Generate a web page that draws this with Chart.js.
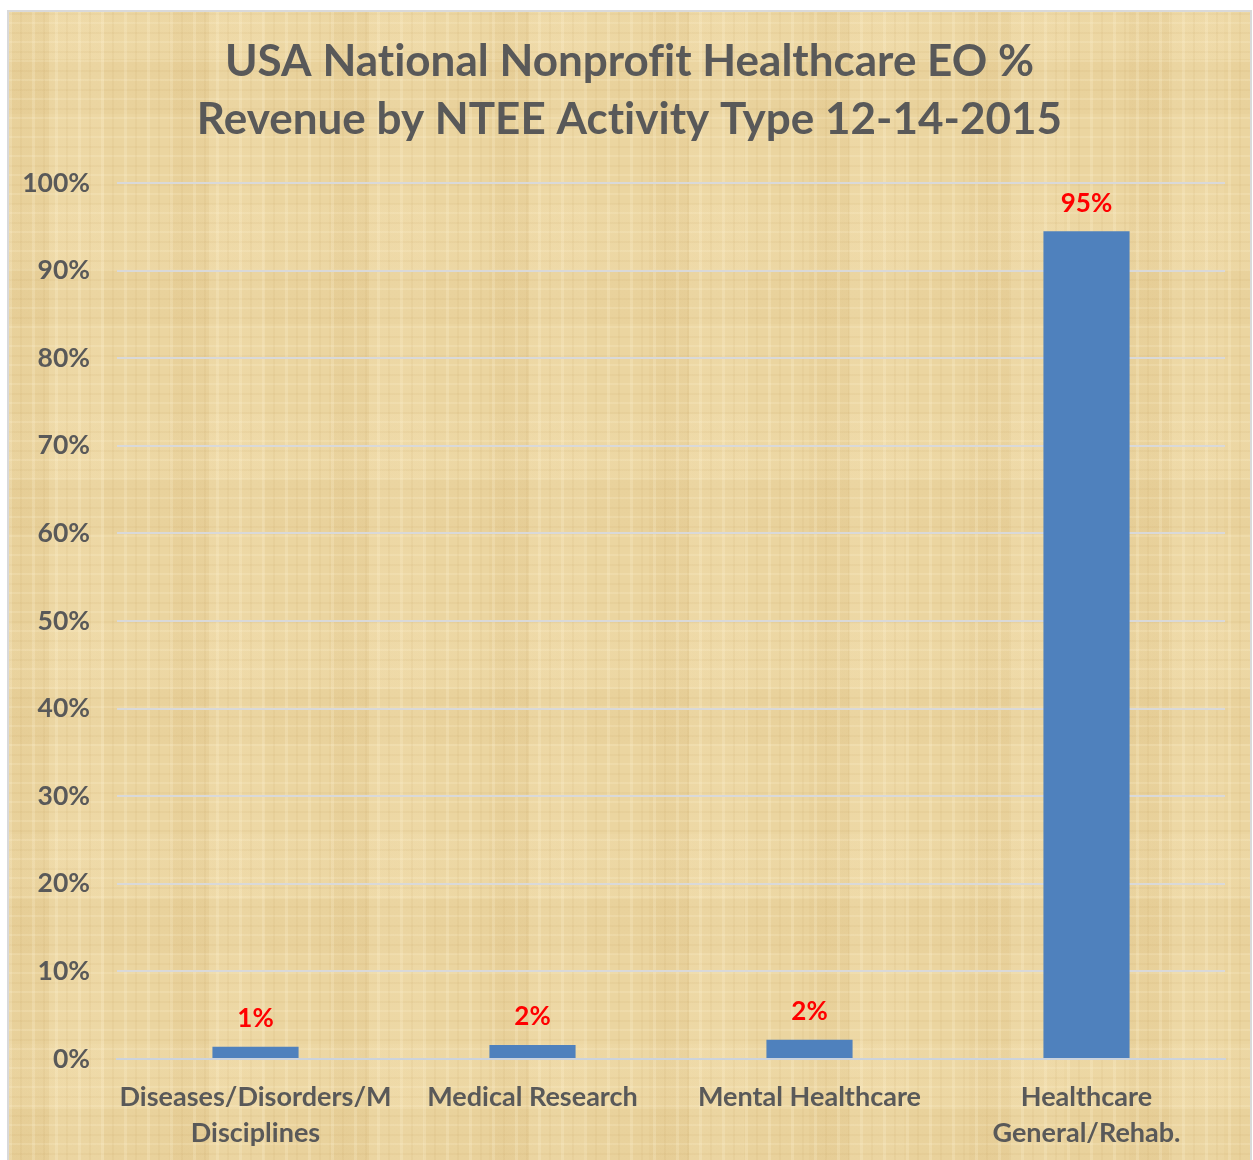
<!DOCTYPE html>
<html>
<head>
<meta charset="utf-8">
<script src="https://cdn.jsdelivr.net/npm/chart.js@4"></script>
<style>
  body { margin: 0; background: #fff; }
  #frame {
    position: absolute; left: 7px; top: 10px; width: 1241px; height: 1152px;
    border: 2px solid #d9d9d9;
    background-color: #ebd5a0;
    background-image:
      repeating-linear-gradient(90deg, rgba(255,245,215,0.22) 0 3px, rgba(0,0,0,0) 3px 11px, rgba(180,140,70,0.07) 11px 13px, rgba(0,0,0,0) 13px 23px),
      repeating-linear-gradient(0deg, rgba(255,245,215,0.18) 0 2px, rgba(0,0,0,0) 2px 9px, rgba(180,140,70,0.07) 9px 11px, rgba(0,0,0,0) 11px 19px),
      repeating-linear-gradient(90deg, rgba(200,160,90,0.08) 0 40px, rgba(255,240,205,0.10) 40px 95px, rgba(0,0,0,0) 95px 160px),
      repeating-linear-gradient(0deg, rgba(200,160,90,0.06) 0 55px, rgba(255,240,205,0.08) 55px 120px, rgba(0,0,0,0) 120px 210px);
  }
  #wrap { position: absolute; left: 0; top: 0; width: 1241px; height: 1152px; }
</style>
</head>
<body>
<div id="frame"><div id="wrap"><canvas id="chart"></canvas></div></div>
<script>
const categories = [
  ['Diseases/Disorders/M', 'Disciplines'],
  'Medical Research',
  'Mental Healthcare',
  ['Healthcare', 'General/Rehab.']
];
const revenueShare = [1.4, 1.6, 2.2, 94.5];
const yTicks = [0, 10, 20, 30, 40, 50, 60, 70, 80, 90, 100];

const FONT = 'Lato, "Open Sans", sans-serif';
const GREY = '#595959';

// tiny letter spacing stops the "ti" / "fi" ligatures
const noLigatures = {
  id: 'noLigatures',
  beforeDraw(chart) { chart.ctx.letterSpacing = '0.01px'; }
};

// red value labels above each bar
const valueLabels = {
  id: 'valueLabels',
  afterDatasetsDraw(chart) {
    const ctx = chart.ctx;
    const meta = chart.getDatasetMeta(0);
    ctx.save();
    ctx.font = 'bold 26px ' + FONT;
    ctx.fillStyle = '#ff0000';
    ctx.textAlign = 'center';
    ctx.textBaseline = 'middle';
    meta.data.forEach((bar, i) => {
      ctx.fillText(Math.round(revenueShare[i]) + '%', bar.x, bar.y - 28);
    });
    ctx.restore();
  }
};

new Chart(document.getElementById('chart'), {
  type: 'bar',
  data: {
    labels: categories,
    datasets: [{
      data: revenueShare,
      backgroundColor: '#4f81bd',
      categoryPercentage: 1,
      barPercentage: 0.311
    }]
  },
  options: {
    responsive: true,
    maintainAspectRatio: false,
    animation: false,
    layout: { padding: 0 },
    plugins: {
      legend: { display: false },
      tooltip: { enabled: false },
      title: {
        display: true,
        text: ['USA National Nonprofit Healthcare EO %', 'Revenue by NTEE Activity Type 12-14-2015'],
        color: GREY,
        font: { family: FONT, size: 44, weight: 'bold', lineHeight: 1.318 },
        padding: { top: 21, bottom: 34 }
      }
    },
    scales: {
      x: {
        grid: { display: false },
        border: { color: '#ccd3dc', width: 2 },
        ticks: {
          color: GREY,
          font: { family: FONT, size: 27, weight: 'bold', lineHeight: 1.333 },
          padding: 12,
          maxRotation: 0
        },
        afterFit(scale) { scale.height = 105; }
      },
      y: {
        min: 0,
        max: 100,
        afterBuildTicks(scale) { scale.ticks = yTicks.map(v => ({ value: v })); },
        grid: { color: '#d9d9d9', lineWidth: 2, drawTicks: false },
        border: { display: false },
        ticks: {
          color: GREY,
          font: { family: FONT, size: 26.5, weight: 'bold' },
          padding: 27,
          callback: v => v + '%'
        },
        afterFit(scale) { scale.width = 108; }
      },
      // empty right-hand axis: keeps a margin right of the plot without shifting the title
      yRight: {
        position: 'right',
        display: true,
        min: 0,
        max: 100,
        grid: { display: false, drawTicks: false },
        border: { display: false },
        ticks: { display: false },
        afterFit(scale) { scale.width = 25; }
      }
    }
  },
  plugins: [noLigatures, valueLabels]
});
</script>
</body>
</html>
